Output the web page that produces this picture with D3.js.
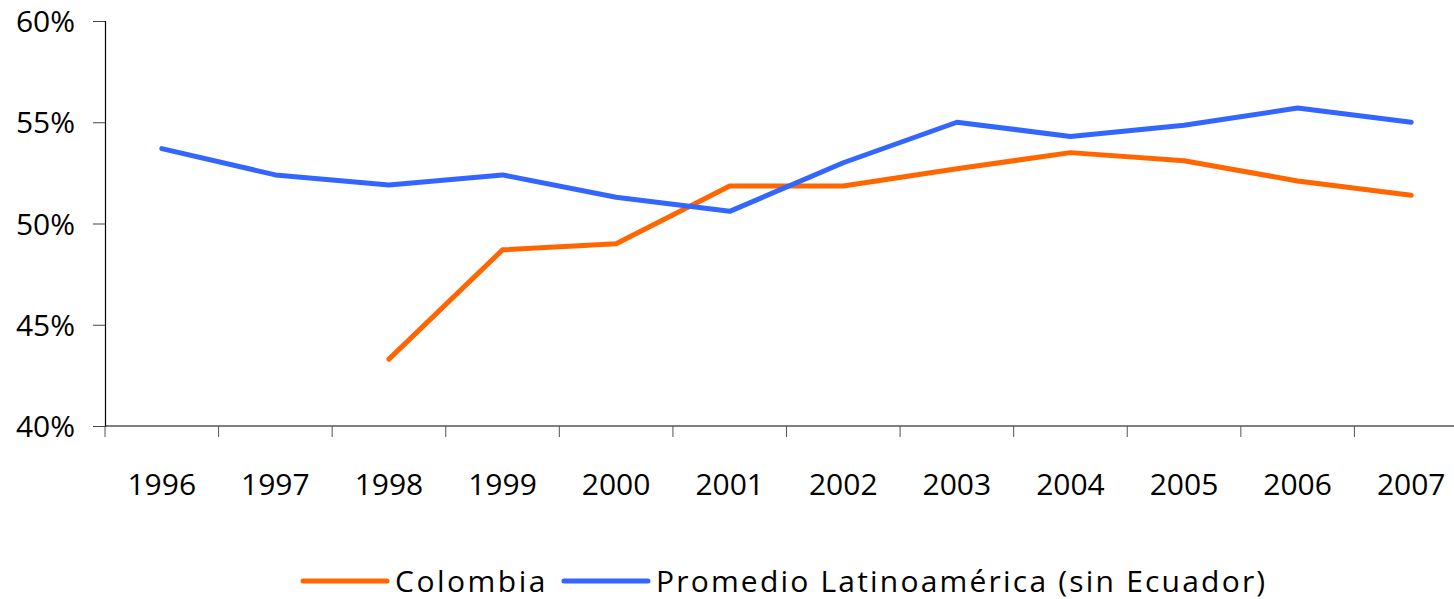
<!DOCTYPE html>
<html lang="es">
<head>
    <meta charset="UTF-8">
    <title>Colombia vs Promedio Latinoamérica</title>
    <style>
        body,
        html {
            margin: 0;
            padding: 0;
            background: #fff;
        }
        svg text {
            font-family: "Open Sans", sans-serif;
            fill: #000;
        }
    </style>
    <script src="https://d3js.org/d3.v7.min.js"></script>
</head>
<body>
<div id="chart"></div>
<script>
    const years = ['1996', '1997', '1998', '1999', '2000', '2001', '2002', '2003', '2004', '2005', '2006', '2007'];
    const colombia = [null, null, 0.433, 0.487, 0.490, 0.5185, 0.5185, 0.527, 0.535, 0.531, 0.521, 0.514];
    const promedio = [0.537, 0.524, 0.519, 0.524, 0.513, 0.506, 0.530, 0.550, 0.543, 0.5485, 0.557, 0.550];
    const yTicks = [0.40, 0.45, 0.50, 0.55, 0.60];
    const seriesNames = ['Colombia', 'Promedio Latinoamérica (sin Ecuador)'];
    const seriesColors = ['#ff6600', '#3366ff'];

    (function () {
        const width = 1454, height = 599;
        const left = 105, right = 1468, top = 21, bottom = 426;

        const svg = d3.select('#chart').append('svg')
            .attr('width', width).attr('height', height);

        const x = d3.scaleBand().domain(years).range([left, right]).padding(0);
        const y = d3.scaleLinear().domain([0.40, 0.60]).range([bottom, top]);
        const cx = d => x(d) + x.bandwidth() / 2;

        // y axis
        const yAxis = svg.append('g')
            .attr('transform', `translate(${left},0)`)
            .call(d3.axisLeft(y).tickValues(yTicks).tickSize(12).tickPadding(18).tickFormat(d3.format('.0%')));
        yAxis.select('.domain').attr('stroke', '#000').attr('stroke-width', 1.2);
        yAxis.selectAll('.tick line').attr('stroke', '#444');
        yAxis.selectAll('.tick text').style('font-size', '30px').attr('dy', '0.35em');

        // x axis: line + ticks at category boundaries
        svg.append('line')
            .attr('x1', left).attr('x2', width)
            .attr('y1', bottom).attr('y2', bottom)
            .attr('stroke', '#000').attr('stroke-width', 1.2);
        const edges = years.map(d => x(d)).concat([right]);
        svg.selectAll('.xtick').data(edges).enter().append('line')
            .attr('class', 'xtick')
            .attr('x1', d => d).attr('x2', d => d)
            .attr('y1', bottom).attr('y2', bottom + 11)
            .attr('stroke', '#555');
        svg.selectAll('.xlabel').data(years).enter().append('text')
            .attr('class', 'xlabel')
            .attr('x', cx).attr('y', 495)
            .attr('text-anchor', 'middle')
            .style('font-size', '30px')
            .text(d => d);

        // lines
        const line = d3.line()
            .defined(d => d.v != null)
            .x(d => cx(d.year))
            .y(d => y(d.v));
        [colombia, promedio].forEach((vals, i) => {
            svg.append('path')
                .datum(years.map((year, j) => ({year: year, v: vals[j]})))
                .attr('d', line)
                .attr('fill', 'none')
                .attr('stroke', seriesColors[i])
                .attr('stroke-width', 5)
                .attr('stroke-linejoin', 'round')
                .attr('stroke-linecap', 'round');
        });

        // legend
        const legend = svg.append('g').attr('transform', 'translate(303,581)');
        let offset = 0;
        seriesNames.forEach((name, i) => {
            const g = legend.append('g').attr('transform', `translate(${offset},0)`);
            g.append('line')
                .attr('x1', 0).attr('x2', 84)
                .attr('y1', 0).attr('y2', 0)
                .attr('stroke', seriesColors[i])
                .attr('stroke-width', 5)
                .attr('stroke-linecap', 'round');
            const t = g.append('text')
                .attr('x', 92).attr('y', 0).attr('dy', '0.35em')
                .style('font-size', '30px')
                .style('letter-spacing', i === 0 ? '2.5px' : '2.2px')
                .text(name);
            offset += 92 + t.node().getComputedTextLength() + 16;
        });
    }());
</script>
</body>
</html>
